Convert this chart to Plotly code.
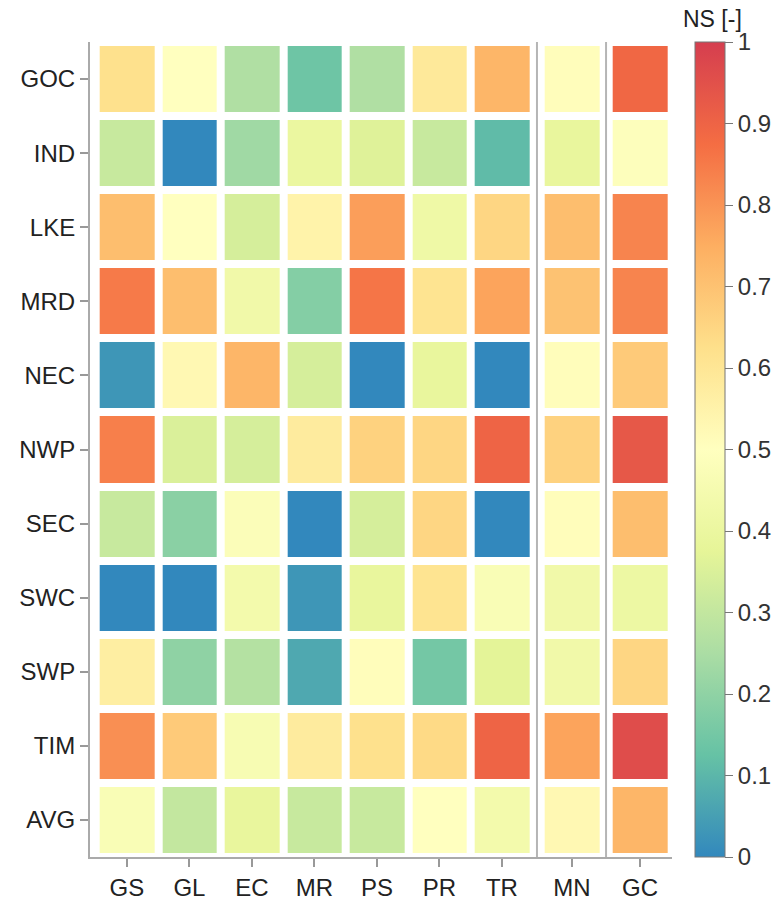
import plotly.graph_objects as go
import numpy as np

rows = ["GOC", "IND", "LKE", "MRD", "NEC", "NWP", "SEC", "SWC", "SWP", "TIM", "AVG"]
cols = ["GS", "GL", "EC", "MR", "PS", "PR", "TR", "MN", "GC"]

ns_GOC = [0.62, 0.50, 0.26, 0.14, 0.26, 0.59, 0.73, 0.51, 0.89]
ns_IND = [0.31, 0.00, 0.23, 0.40, 0.36, 0.31, 0.11, 0.39, 0.49]
ns_LKE = [0.71, 0.50, 0.34, 0.55, 0.78, 0.42, 0.65, 0.71, 0.83]
ns_MRD = [0.85, 0.71, 0.43, 0.18, 0.86, 0.61, 0.77, 0.70, 0.83]
ns_NEC = [0.03, 0.53, 0.73, 0.34, 0.00, 0.39, 0.00, 0.51, 0.68]
ns_NWP = [0.84, 0.35, 0.34, 0.58, 0.66, 0.65, 0.90, 0.66, 0.93]
ns_SEC = [0.31, 0.19, 0.48, 0.00, 0.34, 0.65, 0.00, 0.51, 0.71]
ns_SWC = [0.00, 0.00, 0.44, 0.03, 0.39, 0.61, 0.47, 0.43, 0.41]
ns_SWP = [0.57, 0.20, 0.27, 0.07, 0.51, 0.15, 0.37, 0.43, 0.65]
ns_TIM = [0.81, 0.68, 0.46, 0.58, 0.62, 0.64, 0.90, 0.77, 0.96]
ns_AVG = [0.47, 0.30, 0.39, 0.31, 0.31, 0.50, 0.44, 0.53, 0.73]

values = [ns_GOC, ns_IND, ns_LKE, ns_MRD, ns_NEC, ns_NWP, ns_SEC, ns_SWC, ns_SWP, ns_TIM, ns_AVG]

# layout: column centre positions (the last two columns are set apart)
col_pos = [1, 2, 3, 4, 5, 6, 7, 8.12, 9.21]

# build brick edges, inserting empty bricks where the groups are separated
edges = [col_pos[0] - 0.5]
col_index = []  # index into cols for each brick, None for empty
for i, p in enumerate(col_pos):
    left = p - 0.5
    if left > edges[-1] + 1e-9:
        edges.append(left)
        col_index.append(None)
    edges.append(p + 0.5)
    col_index.append(i)

z = []
for r in values:
    z.append([r[c] if c is not None else None for c in col_index])

spectral = [
    [0.0, "#3288bd"], [0.125, "#66c2a5"], [0.25, "#abdda4"], [0.375, "#e6f598"],
    [0.5, "#ffffbf"], [0.625, "#fee08b"], [0.75, "#fdae61"], [0.875, "#f46d43"],
    [1.0, "#d53e4f"],
]

FONT = "Liberation Sans, Arial"

fig = go.Figure()
fig.add_trace(go.Heatmap(
    z=z, x=edges, y=list(range(len(rows))),
    zmin=0, zmax=1, colorscale=spectral, xgap=8, ygap=8,
    hoverongaps=False,
    colorbar=dict(
        thickness=30, len=1, lenmode="fraction", y=0.5, yanchor="middle",
        x=1.0395, xanchor="left", xpad=0, ypad=0,
        outlinewidth=1, outlinecolor="#777777",
        tick0=0, dtick=0.1, ticks="outside", ticklen=8, tickcolor="#777777",
        tickfont=dict(family=FONT, size=24, color="#333333"),
    ),
))

seps = [(col_pos[6] + col_pos[7]) / 2, (col_pos[7] + col_pos[8]) / 2]
for s in seps:
    fig.add_shape(type="line", xref="x", yref="paper", x0=s, x1=s, y0=0, y1=1,
                  line=dict(color="#b5b5b5", width=2))

fig.add_annotation(text="NS [-]", xref="paper", yref="paper", x=1.069, y=1.0,
                   yshift=8, xanchor="center", yanchor="bottom", showarrow=False,
                   font=dict(family=FONT, size=23, color="#222222"))

fig.update_layout(
    width=782, height=908,
    margin=dict(l=90, r=110, t=42, b=51, autoexpand=False),
    paper_bgcolor="white", plot_bgcolor="white",
    font=dict(family=FONT, size=24, color="#222222"),
    xaxis=dict(range=[0.41, 9.72], tickvals=col_pos, ticktext=cols,
               ticks="outside", ticklen=8, tickcolor="#999999", tickwidth=1.5,
               showline=True, linecolor="#aaaaaa", linewidth=2, automargin=False,
               showgrid=False, zeroline=False),
    yaxis=dict(range=[len(rows) - 0.5, -0.5], tickvals=list(range(len(rows))), ticktext=rows,
               ticks="outside", ticklen=8, tickcolor="#999999", tickwidth=1.5,
               showline=True, linecolor="#aaaaaa", linewidth=2, automargin=False,
               showgrid=False, zeroline=False),
)

fig.write_html("out.html")
